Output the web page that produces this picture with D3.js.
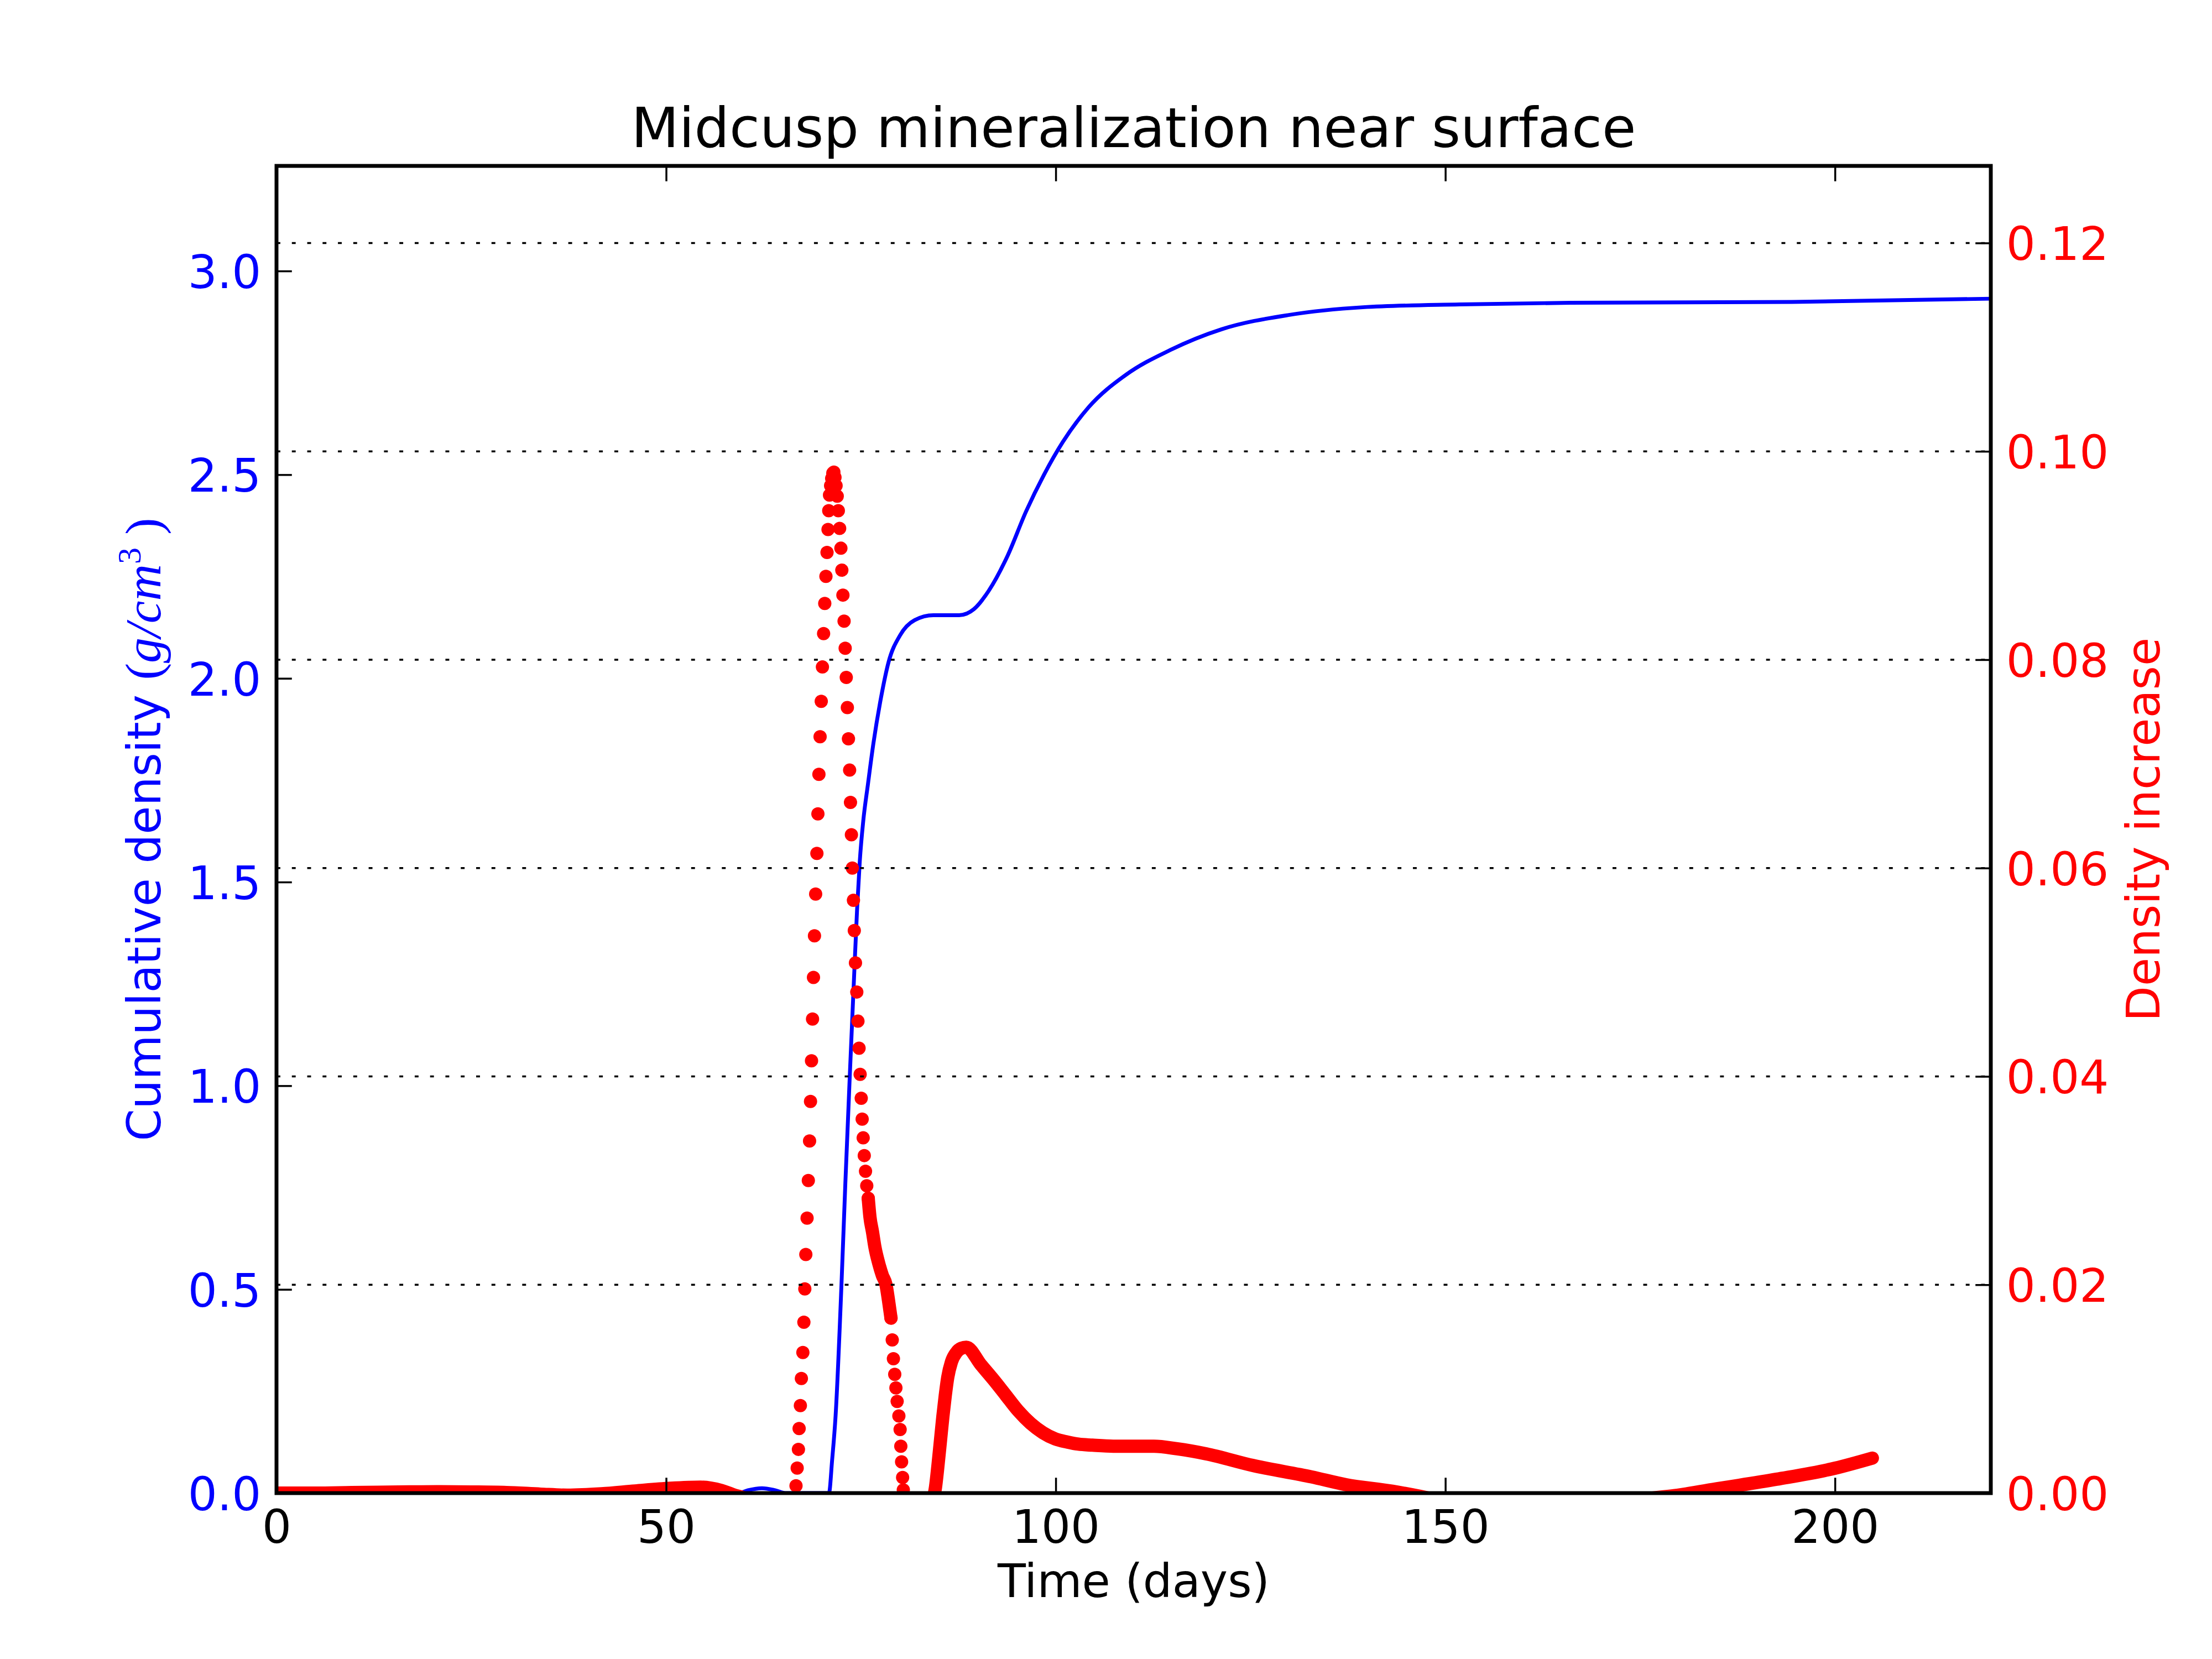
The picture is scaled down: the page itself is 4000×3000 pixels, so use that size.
<!DOCTYPE html>
<html>
<head>
<meta charset="utf-8">
<script src="https://cdn.jsdelivr.net/npm/d3@7"></script>
<style>
  html, body { margin: 0; padding: 0; background: #ffffff; }
  svg { display: block; }
</style>
</head>
<body>
<script>
// ---------------- DATA ----------------
const titleText = "Midcusp mineralization near surface";
const xLabelText = "Time (days)";
const rightLabelText = "Density increase";

const xTicks = [0, 50, 100, 150, 200];
const leftTicks = [0, 0.5, 1.0, 1.5, 2.0, 2.5, 3.0];
const rightTicks = [0, 0.02, 0.04, 0.06, 0.08, 0.10, 0.12];

const xDomain = [0, 220];
const leftDomain = [0, 3.258];
const rightDomain = [0, 0.1274];

// Cumulative density (left axis, blue line)
const blueDays = [0, 59.3, 60.5, 62.3, 64.0, 65.4, 70.9, 71.3, 71.75, 72.5, 73.0, 73.57, 74.15, 74.5,
  74.85, 75.3, 75.9, 76.6, 77.6, 78.55, 80.0, 81.9, 84.3, 87.6, 89.5, 91.4, 93.8, 96.2, 98.5, 100.9,
  104.2, 109.0, 114.7, 121.3, 129.9, 139.4, 151.8, 166.0, 194.5, 220];
const blueValues = [0, 0, 0.007, 0.012, 0.007, 0, 0, 0.08, 0.19, 0.51, 0.76, 1.024, 1.28, 1.43,
  1.55, 1.65, 1.74, 1.84, 1.955, 2.04, 2.105, 2.143, 2.155, 2.155, 2.17, 2.215, 2.30, 2.41, 2.50, 2.58,
  2.665, 2.745, 2.806, 2.857, 2.892, 2.911, 2.918, 2.922, 2.924, 2.932];

// Density increase (right axis): individually visible markers
const redDotDays = [66.67, 66.82, 66.98, 67.07, 67.23, 67.36, 67.55, 67.68, 67.80, 67.93, 68.09, 68.25,
  68.41, 68.53, 68.66, 68.79, 68.91, 69.04, 69.19, 69.35, 69.48, 69.61, 69.76, 69.91, 70.06, 70.21,
  70.36, 70.51, 70.65, 70.78, 70.87, 70.97, 71.11, 71.25, 71.39, 71.53, 71.67, 71.81, 71.96, 72.10,
  72.27, 72.43, 72.55, 72.69, 72.84, 72.98, 73.12, 73.26, 73.40, 73.55, 73.66, 73.78, 73.90, 74.04,
  74.15, 74.30, 74.47, 74.62, 74.76, 74.90, 75.04, 75.16, 75.29, 75.43, 75.59, 75.75, 75.94,
  78.86, 79.02, 79.17, 79.34, 79.49, 79.65, 79.87, 80.03, 80.12, 80.22, 80.35, 80.44];
const redDotValues = [0.0007, 0.0024, 0.0042, 0.0062, 0.0084, 0.0110, 0.0135, 0.0164, 0.0196, 0.0229,
  0.0264, 0.0300, 0.0338, 0.0376, 0.0415, 0.0455, 0.0495, 0.0535, 0.0575, 0.0614, 0.0652, 0.0690,
  0.0726, 0.0760, 0.0793, 0.0825, 0.0854, 0.0880, 0.0903, 0.0925, 0.0943, 0.0958, 0.0967, 0.0974,
  0.0979, 0.0980, 0.0975, 0.0967, 0.0957, 0.0943, 0.0926, 0.0907, 0.0886, 0.0862, 0.0837, 0.0811,
  0.0783, 0.0754, 0.0724, 0.0694, 0.0663, 0.0632, 0.0600, 0.0569, 0.0540, 0.0509, 0.0481, 0.0453,
  0.0427, 0.0402, 0.0379, 0.0359, 0.0341, 0.0324, 0.0309, 0.0295, 0.0283,
  0.0168, 0.0147, 0.0129, 0.0114, 0.0101, 0.0088, 0.0074, 0.0061, 0.0045, 0.0030, 0.0015, 0.0003];

// Density increase (right axis): stretches where the markers merge into a continuous band (null = break)
const redTraceDays = [0, 5, 9.6, 13, 17, 21, 25, 29.5, 33.9, 37.3, 41.7, 46, 50.5, 54.4, 57.1, 58.8, 60.4, 61.5,
  null,
  75.94, 76.16, 76.48, 76.80, 77.27, 77.75, 78.22, 78.54, 78.86,
  null,
  84.2, 84.56, 84.88, 85.19, 85.51, 85.83, 86.14, 86.62, 87.25, 87.89, 88.52, 90.42, 92.0, 93.59, 95.18,
  96.76, 98.35, 99.93, 101.5, 102.9, 104.7, 107.4, 110.0, 112.6, 115.6, 119.3, 125.3, 132.8, 137.3,
  143.2, 148.5, 150.5,
  null,
  173.5, 175.4, 179.8, 185.1, 192.5, 200, 204.8];
const redTraceValues = [0, 0, 0.00005, 0.00008, 0.00012, 0.00013, 0.00011, 0.00006, -0.0001, -0.0002,
  -0.00007, 0.0002, 0.00046, 0.00057, 0.00025, -0.0002, -0.0006, -0.0012,
  null,
  0.0283, 0.0265, 0.0251, 0.0236, 0.0221, 0.0209, 0.0200, 0.0185, 0.0168,
  null,
  -0.0008, 0.0005, 0.0026, 0.0049, 0.0073, 0.0094, 0.0111, 0.0126, 0.0135, 0.0139, 0.0140, 0.0123,
  0.0109, 0.0094, 0.0079, 0.0067, 0.0058, 0.0052, 0.0049, 0.0047, 0.0046, 0.0045, 0.0045, 0.0045,
  0.00425, 0.00377, 0.00265, 0.00156, 0.0008, 0.00018, -0.0006, -0.001,
  null,
  -0.0009, -0.0006, -0.0002, 0.00044, 0.00133, 0.00239, 0.00336];

// ---------------- LAYOUT / STYLE ----------------
const W = 4000, H = 3000;
const L = 500, R = 3600, T = 300, B = 2700;
const BLUE = "#0000ff", RED = "#ff0000";
const FONT = "'DejaVu Sans', sans-serif";
const SERIF = "'Liberation Serif', serif";
const FS = 83.33;        // 12pt @ 500dpi
const TITLE_FS = 100;    // 14.4pt
const LW = 6.94;         // 1pt
const TICK = 27.8;       // 4pt
const DOT_R = 12;

const svg = d3.select("body").append("svg")
  .attr("width", W).attr("height", H)
  .attr("viewBox", `0 0 ${W} ${H}`);
svg.append("rect").attr("width", W).attr("height", H).attr("fill", "#fff");

const x = d3.scaleLinear().domain(xDomain).range([L, R]);
const yL = d3.scaleLinear().domain(leftDomain).range([B, T]);
const yR = d3.scaleLinear().domain(rightDomain).range([B, T]);

svg.append("defs").append("clipPath").attr("id", "plotclip")
  .append("rect").attr("x", L).attr("y", T).attr("width", R - L).attr("height", B - T);

const plot = svg.append("g").attr("clip-path", "url(#plotclip)");

// blue cumulative line
const blueData = blueDays.map((d, i) => ({ d, v: blueValues[i] }));
plot.append("path")
  .datum(blueData)
  .attr("fill", "none")
  .attr("stroke", BLUE)
  .attr("stroke-width", LW)
  .attr("stroke-linejoin", "round")
  .attr("d", d3.line().x(p => x(p.d)).y(p => yL(p.v)).curve(d3.curveMonotoneX));

// red continuous band
const traceData = redTraceDays.map((d, i) => ({ d, v: redTraceValues[i] }));
plot.append("path")
  .datum(traceData)
  .attr("fill", "none")
  .attr("stroke", RED)
  .attr("stroke-width", DOT_R * 2)
  .attr("stroke-linecap", "round")
  .attr("stroke-linejoin", "round")
  .attr("d", d3.line().defined(p => p.v !== null && p.d !== null)
    .x(p => x(p.d)).y(p => yR(p.v)).curve(d3.curveMonotoneX));

// red individual markers
const dotData = redDotDays.map((d, i) => ({ d, v: redDotValues[i] }));
plot.selectAll("circle.reddot").data(dotData).enter().append("circle")
  .attr("class", "reddot")
  .attr("cx", p => x(p.d))
  .attr("cy", p => yR(p.v))
  .attr("r", DOT_R)
  .attr("fill", RED);

// dotted horizontal grid from right axis (drawn above data)
svg.append("g").selectAll("line").data(rightTicks).enter().append("line")
  .attr("x1", L).attr("x2", R)
  .attr("y1", d => yR(d)).attr("y2", d => yR(d))
  .attr("stroke", "#000")
  .attr("stroke-width", 3.47)
  .attr("stroke-dasharray", "6.94 20.83");

// axes
function styleAxis(g, color) {
  g.select(".domain").remove();
  g.selectAll(".tick line").attr("stroke", "#000").attr("stroke-width", 3.47);
  g.selectAll(".tick text")
    .attr("fill", color)
    .style("font-family", FONT)
    .style("font-size", FS + "px");
}

const xb = svg.append("g").attr("transform", `translate(0,${B})`)
  .call(d3.axisBottom(x).tickValues(xTicks).tickSize(-TICK).tickPadding(30.5).tickFormat(d3.format("d")));
styleAxis(xb, "#000");
xb.selectAll(".tick text").attr("dy", "0.71em");

const xt = svg.append("g").attr("transform", `translate(0,${T})`)
  .call(d3.axisTop(x).tickValues(xTicks).tickSize(-TICK).tickFormat(""));
styleAxis(xt, "#000");

const yl = svg.append("g").attr("transform", `translate(${L},0)`)
  .call(d3.axisLeft(yL).tickValues(leftTicks).tickSize(-TICK).tickPadding(TICK).tickFormat(d3.format(".1f")));
styleAxis(yl, BLUE);
yl.selectAll(".tick text").attr("dy", "0.366em");

const yr = svg.append("g").attr("transform", `translate(${R},0)`)
  .call(d3.axisRight(yR).tickValues(rightTicks).tickSize(-TICK).tickPadding(TICK).tickFormat(d3.format(".2f")));
styleAxis(yr, RED);
yr.selectAll(".tick text").attr("dy", "0.366em");

// frame
svg.append("rect")
  .attr("x", L).attr("y", T).attr("width", R - L).attr("height", B - T)
  .attr("fill", "none").attr("stroke", "#000").attr("stroke-width", LW);

// title
svg.append("text")
  .attr("x", (L + R) / 2).attr("y", 266)
  .attr("text-anchor", "middle")
  .style("font-family", FONT).style("font-size", TITLE_FS + "px")
  .attr("fill", "#000")
  .text(titleText);

// x label
svg.append("text")
  .attr("x", (L + R) / 2).attr("y", 2888)
  .attr("text-anchor", "middle")
  .style("font-family", FONT).style("font-size", FS + "px")
  .attr("fill", "#000")
  .text(xLabelText);

// left y label with math part
const ylab = svg.append("text")
  .attr("transform", `translate(290,${(T + B) / 2}) rotate(-90)`)
  .attr("text-anchor", "middle")
  .attr("fill", BLUE)
  .style("font-family", FONT).style("font-size", FS + "px");
ylab.append("tspan").text("Cumulative density ");
ylab.append("tspan").style("font-family", SERIF).style("font-size", "92px").text("(");
ylab.append("tspan").style("font-family", SERIF).style("font-size", "92px").style("font-style", "italic").text("g/cm");
ylab.append("tspan").style("font-family", SERIF).style("font-size", "60px")
  .attr("dy", -36).text("3");
ylab.append("tspan").style("font-family", SERIF).style("font-size", "92px")
  .attr("dy", 36).text("\u00a0)");

// right y label
svg.append("text")
  .attr("transform", `translate(3905,${(T + B) / 2}) rotate(-90)`)
  .attr("text-anchor", "middle")
  .attr("fill", RED)
  .style("font-family", FONT).style("font-size", FS + "px")
  .text(rightLabelText);
</script>
</body>
</html>
